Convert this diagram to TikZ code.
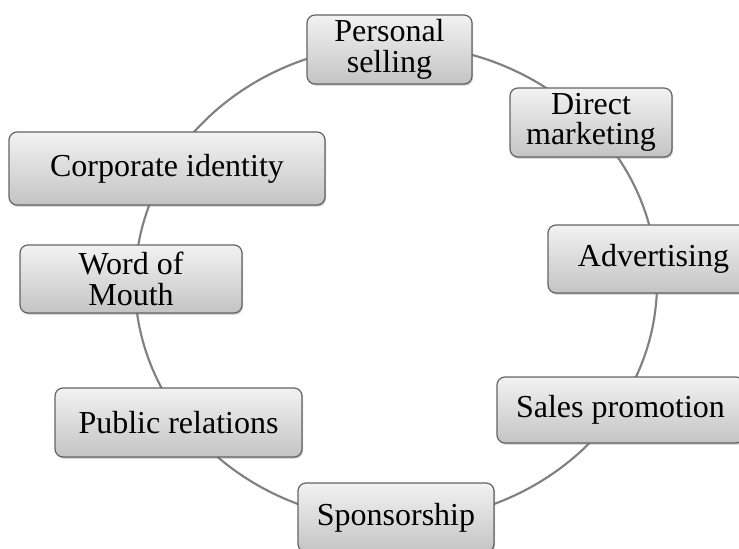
\documentclass[tikz,border=0pt]{standalone}
\usepackage{fontspec}
\setmainfont{Liberation Serif}
\usetikzlibrary{shadows}
\definecolor{ringgray}{RGB}{128,128,128}
\definecolor{boxedge}{RGB}{100,100,100}
\definecolor{boxtop}{RGB}{242,242,242}
\definecolor{boxbot}{RGB}{196,196,196}
\tikzset{
  toolbox/.style={draw=boxedge, line width=0.9pt, rounded corners=6pt,
    top color=boxtop, bottom color=boxbot,
    drop shadow={shadow xshift=0.8pt, shadow yshift=-1.2pt, opacity=0.45},
    inner sep=0pt, align=center,
    font=\fontsize{24}{23}\selectfont},
  ring/.style={draw=ringgray, line width=1.6pt}
}
\begin{document}
\begin{tikzpicture}[x=0.75pt,y=-0.75pt]
\useasboundingbox (0,0) rectangle (739,549);
\fill[white] (0,0) rectangle (739,549);
\coordinate (centre) at (396,283);
\draw[ring] (centre) ellipse [x radius=195.75pt, y radius=178.8pt];
\node[toolbox, minimum width=165*0.75pt, minimum height=69*0.75pt] (ps) at (389.5,49.5) {Personal\\selling};
\node[toolbox, minimum width=162*0.75pt, minimum height=69*0.75pt] (dm) at (591,122.5) {Direct\\marketing};
\node[toolbox, minimum width=316*0.75pt, minimum height=73*0.75pt] (ci) at (167,168.5) {Corporate identity};
\node[toolbox, minimum width=222*0.75pt, minimum height=68*0.75pt] (wm) at (131,279) {Word of\\Mouth};
\node[toolbox, minimum width=211*0.75pt, minimum height=68*0.75pt] (ad) at (653.5,259) {Advertising};
\node[toolbox, minimum width=247*0.75pt, minimum height=66*0.75pt] (sp) at (620.5,410) {Sales promotion};
\node[toolbox, minimum width=247*0.75pt, minimum height=69*0.75pt] (pr) at (178.5,422.5) {Public relations};
\node[toolbox, minimum width=196*0.75pt, minimum height=69*0.75pt] (so) at (396,517.5) {Sponsorship};
\end{tikzpicture}
\end{document}
